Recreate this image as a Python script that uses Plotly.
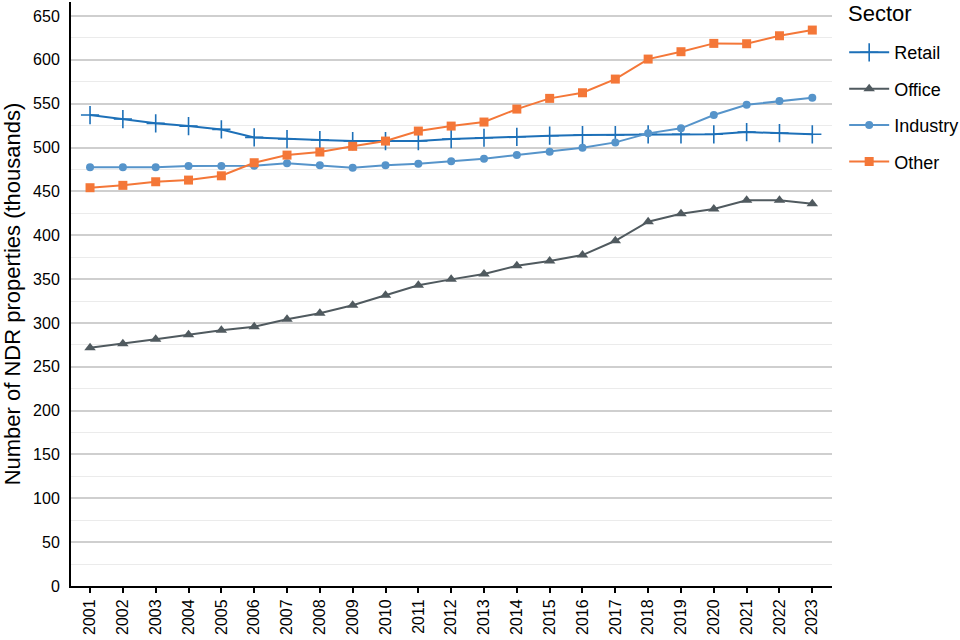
import plotly.graph_objects as go

years = list(range(2001, 2024))
retail = [537.1, 532.5, 527.6, 524.5, 520.7, 511.6, 509.7, 508.6, 507.4, 507.4, 507.4, 509.7,
          511.2, 512.3, 513.5, 514.3, 514.3, 515.1, 515.1, 515.1, 517.7, 516.5, 515.1]
office = [271.7, 276.3, 281.3, 286.5, 291.6, 295.7, 304.1, 311.0, 320.1, 331.5, 342.9, 349.7,
          355.8, 365.2, 370.6, 377.4, 393.7, 415.4, 424.5, 429.9, 439.8, 439.8, 435.9]
industry = [477.5, 477.5, 477.5, 478.9, 478.9, 479.3, 482.0, 479.7, 477.1, 479.7, 481.5, 484.3,
            487.2, 491.4, 495.2, 499.8, 505.9, 516.2, 521.9, 537.1, 548.8, 553.0, 556.8]
other = [454.2, 456.9, 461.0, 462.9, 467.8, 482.7, 491.4, 494.9, 501.4, 507.4, 518.8, 524.5,
         529.1, 543.9, 556.1, 562.5, 578.1, 600.9, 609.3, 618.8, 618.4, 627.5, 634.0]

series = [
    ("Retail", retail, "#1d70b8", dict(symbol="cross-thin", size=13, line=dict(width=1.6, color="#1d70b8"))),
    ("Office", office, "#505a5f", dict(symbol="triangle-up", size=10)),
    ("Industry", industry, "#5694ca", dict(symbol="circle", size=8)),
    ("Other", other, "#f47738", dict(symbol="square", size=9)),
]

fig = go.Figure()
for name, vals, col, mk in series:
    m = dict(color=col, **mk)
    fig.add_trace(go.Scatter(x=years, y=vals, name=name, mode="lines+markers",
                             line=dict(color=col, width=2), marker=m, legendgroup=name))

fig.update_layout(
    width=960, height=640,
    margin=dict(l=71, r=128, t=2, b=54, autoexpand=False),
    plot_bgcolor="white", paper_bgcolor="white",
    font=dict(family="Liberation Sans, Arial, sans-serif", color="black", size=16),
    legend=dict(font=dict(size=18),
                x=1.016, xanchor="left", y=0.945, yanchor="top", tracegroupgap=10,
                itemwidth=40),
    showlegend=True,
    annotations=[dict(text="Sector", xref="paper", yref="paper", x=1.019, y=(586 - 14) / 584,
                      xanchor="left", yanchor="middle", showarrow=False,
                      font=dict(size=22, color="black"))],
)
fig.update_xaxes(
    range=[2000.42, 2023.6], tickmode="array", tickvals=years, ticktext=[str(y) for y in years],
    tickangle=-90, ticks="outside", ticklen=5, tickwidth=2, tickcolor="black",
    showline=True, linecolor="black", linewidth=2, showgrid=False, zeroline=False,
    tickfont=dict(size=16), automargin=False,
)
fig.update_yaxes(
    range=[0, 666], tickmode="linear", tick0=0, dtick=50,
    showline=True, linecolor="black", linewidth=2, ticks="",
    ticklabelstandoff=6,
    showgrid=True, gridcolor="#cfcfcf", gridwidth=2,
    minor=dict(dtick=25, showgrid=True, gridcolor="#ebebeb", gridwidth=1.2),
    zeroline=False, automargin=False,
    title=dict(text="Number of NDR properties (thousands)", font=dict(size=22), standoff=6),
    tickfont=dict(size=16),
)

fig.write_html("out.html", config={"displayModeBar": False},
               post_script="document.body.style.margin='0';")
